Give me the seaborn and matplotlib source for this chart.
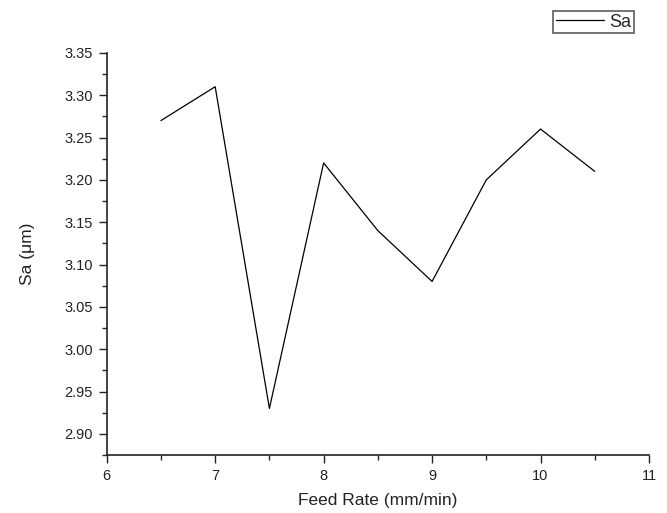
import matplotlib
matplotlib.use("Agg")
import matplotlib.pyplot as plt
import seaborn as sns
import pandas as pd
from matplotlib.ticker import MultipleLocator

feed_rate = [6.5, 7.0, 7.5, 8.0, 8.5, 9.0, 9.5, 10.0, 10.5]
sa_values = [3.27, 3.31, 2.93, 3.22, 3.14, 3.08, 3.20, 3.26, 3.21]
y_ticks = [2.90, 2.95, 3.00, 3.05, 3.10, 3.15, 3.20, 3.25, 3.30, 3.35]

df = pd.DataFrame({"Feed Rate": feed_rate, "Sa": sa_values})

sns.set_style("ticks")
plt.rcParams["font.family"] = ["Liberation Sans", "DejaVu Sans"]

fig = plt.figure(figsize=(6.67, 5.13), dpi=100)
ax = fig.add_axes([0.160, 0.113, 0.813, 0.784])
sns.lineplot(data=df, x="Feed Rate", y="Sa", ax=ax, color="black", linewidth=0.9, label="Sa", legend=False)

ax.set_xlim(6, 11)
ax.set_ylim(2.875, 3.35)
ax.xaxis.set_major_locator(MultipleLocator(1))
ax.xaxis.set_minor_locator(MultipleLocator(0.5))
ax.yaxis.set_minor_locator(MultipleLocator(0.025))
ax.set_yticks(y_ticks)
ax.set_yticklabels([f"{v:.2f}" for v in y_ticks])
ax.tick_params(axis="both", which="major", direction="out", length=6, width=1, labelsize=10.5, colors="#222222", pad=4)
ax.tick_params(axis="both", which="minor", direction="out", length=3.5, width=1)
for s in ["top", "right"]:
    ax.spines[s].set_visible(False)
for s in ["left", "bottom"]:
    ax.spines[s].set_linewidth(1.2)
    ax.spines[s].set_color("#222222")

ax.set_xlabel("Feed Rate (mm/min)", fontsize=12.5, color="#222222", labelpad=7)
ax.set_ylabel("Sa (μm)", fontsize=12.5, color="#222222", labelpad=21)

h, l = ax.get_legend_handles_labels()
leg = fig.legend(h, l, loc="upper left", bbox_to_anchor=(553/667, 1 - 11/513),
                 frameon=True, fancybox=False, edgecolor="#333333", fontsize=13,
                 handlelength=2.7, handletextpad=0.25, borderpad=0.15, borderaxespad=0)
leg.get_frame().set_linewidth(1.2)

fig.savefig("out.png", dpi=100)
